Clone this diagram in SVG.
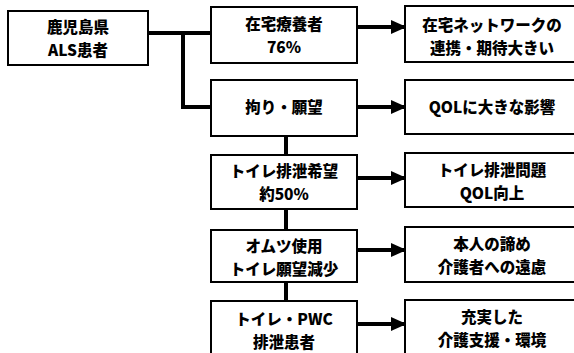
<svg xmlns="http://www.w3.org/2000/svg" width="574" height="353" viewBox="0 0 574 353">
<defs>
<style>
.box{fill:#fff;stroke:#000;stroke-width:2}
.t{font-family:"Noto Sans CJK JP","Noto Sans",sans-serif;font-weight:900;font-size:15.5px;fill:#000;text-anchor:middle}
.c{stroke:#000;stroke-width:4;fill:none}
</style>
<marker id="ah" markerWidth="4" markerHeight="4" refX="3.6" refY="2" orient="auto" markerUnits="strokeWidth">
<path d="M0,0.2 L4,2 L0,3.8 Z" fill="#000"/>
</marker>
</defs>
<rect width="574" height="353" fill="#fff"/>
<g id="connectors">
<path class="c" d="M148,33 H211"/>
<path class="c" d="M183,33 V107 H211"/>
<path class="c" d="M286,136 V155"/>
<path class="c" d="M286,209 V230"/>
<path class="c" d="M286,282 V301"/>
<path class="c" d="M357,27 H405" marker-end="url(#ah)"/>
<path class="c" d="M357,107 H405" marker-end="url(#ah)"/>
<path class="c" d="M357,178 H405" marker-end="url(#ah)"/>
<path class="c" d="M357,250 H405" marker-end="url(#ah)"/>
<path class="c" d="M357,324 H405" marker-end="url(#ah)"/>
</g>
<g id="als"><rect class="box" x="8" y="11" width="140" height="54"/><text class="t" x="78" y="33">鹿児島県</text><text class="t" x="78" y="55.5">ALS患者</text></g>
<g id="m1"><rect class="box" x="211" y="7" width="146" height="56"/><text class="t" x="284" y="30">在宅療養者</text><text class="t" x="284" y="52.5">76%</text></g>
<g id="m2"><rect class="box" x="211" y="80" width="146" height="56"/><text class="t" x="284" y="113">拘り・願望</text></g>
<g id="m3"><rect class="box" x="211" y="155" width="146" height="54"/><text class="t" x="284" y="177">トイレ排泄希望</text><text class="t" x="284" y="199.5">約50%</text></g>
<g id="m4"><rect class="box" x="211" y="230" width="146" height="52"/><text class="t" x="284" y="252">オムツ使用</text><text class="t" x="284" y="274.5">トイレ願望減少</text></g>
<g id="m5"><rect class="box" x="211" y="301" width="146" height="60"/><text class="t" x="284" y="325">トイレ・PWC</text><text class="t" x="284" y="347.5">排泄患者</text></g>
<g id="r1"><rect class="box" x="405" y="6" width="175" height="56"/><text class="t" x="492" y="31">在宅ネットワークの</text><text class="t" x="492" y="53.5">連携・期待大きい</text></g>
<g id="r2"><rect class="box" x="405" y="80" width="175" height="54"/><text class="t" x="492" y="113">QOLに大きな影響</text></g>
<g id="r3"><rect class="box" x="405" y="153" width="175" height="54"/><text class="t" x="492" y="176">トイレ排泄問題</text><text class="t" x="492" y="198.5">QOL向上</text></g>
<g id="r4"><rect class="box" x="405" y="227" width="175" height="55"/><text class="t" x="492" y="250">本人の諦め</text><text class="t" x="492" y="272.5">介護者への遠慮</text></g>
<g id="r5"><rect class="box" x="405" y="300" width="175" height="60"/><text class="t" x="492" y="323">充実した</text><text class="t" x="492" y="345.5">介護支援・環境</text></g>
</svg>
